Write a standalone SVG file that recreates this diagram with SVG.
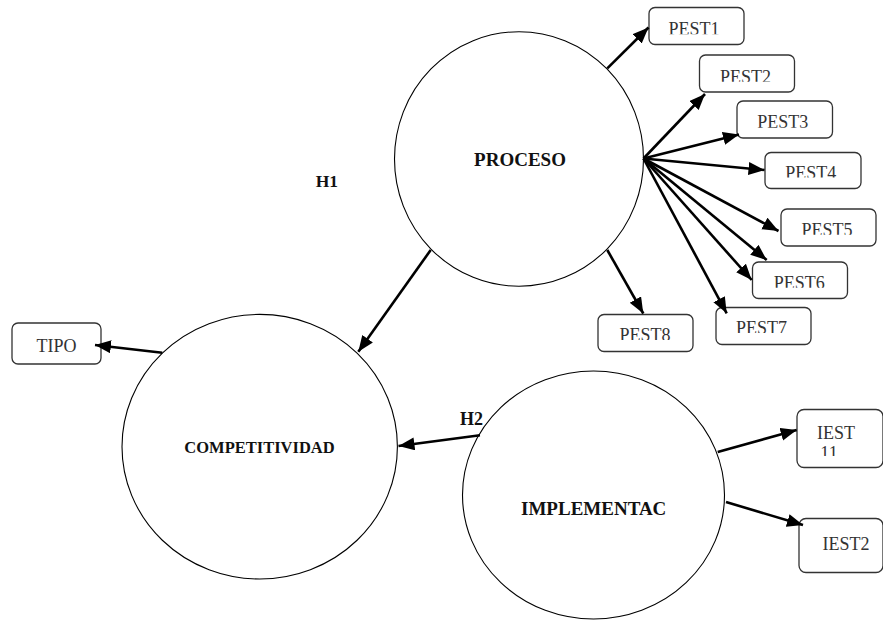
<svg xmlns="http://www.w3.org/2000/svg" width="883" height="620" viewBox="0 0 883 620">
<style>
.circ{fill:#fff;stroke:#000;stroke-width:1.1}
.box{fill:#fff;stroke:#333;stroke-width:1.3}
.big{font-family:"Liberation Serif","Times New Roman",serif;font-weight:bold;fill:#111;text-anchor:middle}
.lab{font-family:"Liberation Serif","Times New Roman",serif;font-weight:bold;fill:#111}
.bt{font-family:"Liberation Serif","Times New Roman",serif;font-size:18px;fill:#333;text-anchor:middle}
.con line{stroke:#000;stroke-width:2.6;marker-end:url(#ah)}
</style>
<defs>
<marker id="ah" markerUnits="userSpaceOnUse" markerWidth="17" markerHeight="14" refX="16" refY="6.5" orient="auto" viewBox="0 0 17 14">
<path d="M0,0 L16,6.5 L0,13 z" fill="#000"/>
</marker>
<clipPath id="c1" clipPathUnits="userSpaceOnUse"><rect x="649" y="7" width="95" height="27.3"/></clipPath>
<clipPath id="c2" clipPathUnits="userSpaceOnUse"><rect x="699" y="55" width="96" height="26.7"/></clipPath>
<clipPath id="c3" clipPathUnits="userSpaceOnUse"><rect x="737" y="101" width="96" height="26.8"/></clipPath>
<clipPath id="c4" clipPathUnits="userSpaceOnUse"><rect x="765" y="152" width="96" height="25.5"/></clipPath>
<clipPath id="c5" clipPathUnits="userSpaceOnUse"><rect x="781" y="209" width="96" height="25.8"/></clipPath>
<clipPath id="c6" clipPathUnits="userSpaceOnUse"><rect x="752" y="262" width="96" height="25.8"/></clipPath>
<clipPath id="c7" clipPathUnits="userSpaceOnUse"><rect x="716" y="307" width="96" height="26"/></clipPath>
<clipPath id="c8" clipPathUnits="userSpaceOnUse"><rect x="598" y="314" width="96" height="26"/></clipPath>
<clipPath id="ci1" clipPathUnits="userSpaceOnUse"><rect x="797" y="409" width="86" height="47"/></clipPath>
</defs>

<g id="proceso">
<ellipse class="circ" cx="519" cy="159" rx="124.5" ry="127.3"/>
<text class="big" x="520" y="166" font-size="19">PROCESO</text>
</g>
<g id="competitividad">
<ellipse class="circ" cx="259.7" cy="446.7" rx="137.7" ry="132.3"/>
<text class="big" x="259.5" y="453.3" font-size="16.5">COMPETITIVIDAD</text>
</g>
<g id="implementac">
<ellipse class="circ" cx="593.5" cy="495" rx="131" ry="124"/>
<text class="big" x="593.7" y="515" font-size="19">IMPLEMENTAC</text>
</g>

<g id="pest1"><rect class="box" x="649" y="7.5" width="95" height="37" rx="6"/><text class="bt" x="694" y="34.5" clip-path="url(#c1)">PEST1</text></g>
<g id="pest2"><rect class="box" x="699.5" y="55" width="95" height="37" rx="6"/><text class="bt" x="745.5" y="82.7" clip-path="url(#c2)">PEST2</text></g>
<g id="pest3"><rect class="box" x="737" y="101" width="95.5" height="37" rx="6"/><text class="bt" x="782.7" y="128.3" clip-path="url(#c3)">PEST3</text></g>
<g id="pest4"><rect class="box" x="765" y="152.5" width="96" height="36" rx="6"/><text class="bt" x="810.8" y="178.7" clip-path="url(#c4)">PEST4</text></g>
<g id="pest5"><rect class="box" x="781" y="209" width="95" height="37" rx="6"/><text class="bt" x="827" y="235.5" clip-path="url(#c5)">PEST5</text></g>
<g id="pest6"><rect class="box" x="752.5" y="262" width="95" height="36.5" rx="6"/><text class="bt" x="799.3" y="288.7" clip-path="url(#c6)">PEST6</text></g>
<g id="pest7"><rect class="box" x="716" y="307.5" width="95" height="37" rx="6"/><text class="bt" x="761.5" y="333.7" clip-path="url(#c7)">PEST7</text></g>
<g id="pest8"><rect class="box" x="598" y="314.5" width="95" height="37" rx="6"/><text class="bt" x="645" y="341.3" clip-path="url(#c8)">PEST8</text></g>
<g id="tipo"><rect class="box" x="12" y="323" width="89" height="41" rx="6"/><text class="bt" x="56.5" y="352">TIPO</text></g>
<g id="iest1"><rect class="box" x="797" y="409.5" width="86" height="58" rx="7"/><text class="bt" x="836" y="439.3">IEST</text><text class="bt" x="829" y="459" clip-path="url(#ci1)">11</text></g>
<g id="iest2"><rect class="box" x="799" y="518.5" width="84" height="54" rx="7"/><text class="bt" x="846" y="549.5">IEST2</text></g>

<g id="connectors" class="con">
<line x1="607.3" y1="68.3" x2="648.5" y2="27.5"/>
<line x1="643.5" y1="158.5" x2="705" y2="94"/>
<line x1="643.5" y1="158.5" x2="739" y2="134.5"/>
<line x1="643.5" y1="158.5" x2="764.5" y2="170"/>
<line x1="643.5" y1="158.5" x2="778.5" y2="231"/>
<line x1="643.5" y1="158.5" x2="766.7" y2="260"/>
<line x1="643.5" y1="158.5" x2="751.7" y2="280"/>
<line x1="643.5" y1="158.5" x2="726.7" y2="313.3"/>
<line x1="607.3" y1="250" x2="643.3" y2="313.5"/>
<line x1="430.7" y1="250" x2="358.3" y2="351.7"/>
<line x1="162.3" y1="352.7" x2="95" y2="345"/>
<line x1="480" y1="435.3" x2="398.5" y2="446"/>
<line x1="717.7" y1="452" x2="796.7" y2="430"/>
<line x1="726" y1="502" x2="803" y2="525"/>
</g>

<g id="labels">
<text class="lab" x="315.7" y="187.3" font-size="17.5">H1</text>
<text class="lab" x="460" y="425" font-size="18">H2</text>
</g>
</svg>
